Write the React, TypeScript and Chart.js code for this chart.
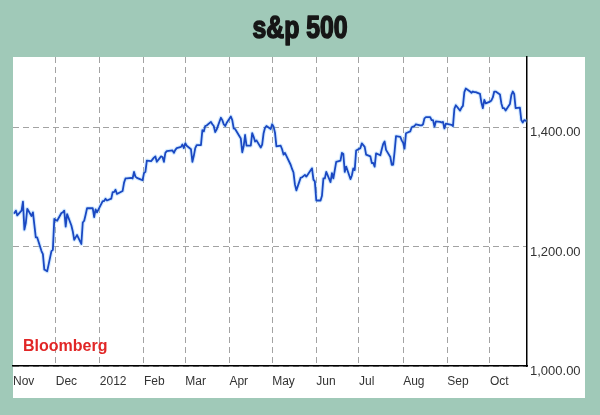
import React, { useEffect, useRef } from 'react';
import { Chart, registerables } from 'chart.js';

Chart.register(...registerables);

const TITLE = 's&p 500';
const SOURCE = 'Bloomberg';

const xTickLabels = ['Nov', 'Dec', '2012', 'Feb', 'Mar', 'Apr', 'May', 'Jun', 'Jul', 'Aug', 'Sep', 'Oct'];
// [year, monthIndex] of each month shown on the axis
const axisMonths: [number, number][] = [
  [2011, 10], [2011, 11], [2012, 0], [2012, 1], [2012, 2], [2012, 3],
  [2012, 4], [2012, 5], [2012, 6], [2012, 7], [2012, 8], [2012, 9],
];
const axisStart: [number, number, number] = [2011, 10, 1];
const axisEnd: [number, number, number] = [2012, 9, 27];

const yTickValues = [1000, 1200, 1400];
const yMin = 1000;
const yMax = 1519;

// trading days and closes, month by month
const novDays = [2, 3, 4, 7, 8, 9, 10, 11, 14, 15, 16, 17, 18, 21, 22, 23, 25, 28, 29, 30];
const novClose = [1257, 1261, 1253, 1261, 1276, 1229, 1240, 1264, 1252, 1258, 1237, 1216, 1216, 1193, 1188, 1162, 1159, 1193, 1195, 1247];

const decDays = [1, 2, 5, 6, 7, 8, 9, 12, 13, 14, 15, 16, 19, 20, 21, 22, 23, 27, 28, 29, 30];
const decClose = [1245, 1244, 1257, 1258, 1261, 1234, 1255, 1236, 1226, 1212, 1216, 1220, 1205, 1241, 1244, 1254, 1265, 1265, 1250, 1263, 1258];

const janDays = [3, 4, 5, 6, 9, 10, 11, 12, 13, 17, 18, 19, 20, 23, 24, 25, 26, 27, 30, 31];
const janClose = [1277, 1277, 1281, 1278, 1281, 1292, 1292, 1296, 1289, 1294, 1308, 1315, 1315, 1316, 1315, 1326, 1318, 1316, 1313, 1312];

const febDays = [1, 2, 3, 6, 7, 8, 9, 10, 13, 14, 15, 16, 17, 21, 22, 23, 24, 27, 28, 29];
const febClose = [1324, 1326, 1345, 1344, 1347, 1350, 1352, 1343, 1352, 1351, 1343, 1358, 1361, 1362, 1358, 1363, 1366, 1368, 1372, 1366];

const marDays = [1, 2, 5, 6, 7, 8, 9, 12, 13, 14, 15, 16, 19, 20, 21, 22, 23, 26, 27, 28, 29, 30];
const marClose = [1374, 1370, 1364, 1343, 1353, 1366, 1371, 1371, 1396, 1394, 1403, 1404, 1410, 1406, 1403, 1393, 1397, 1417, 1413, 1406, 1403, 1408];

const aprDays = [2, 3, 4, 5, 9, 10, 11, 12, 13, 16, 17, 18, 19, 20, 23, 24, 25, 26, 27, 30];
const aprClose = [1419, 1413, 1399, 1398, 1382, 1359, 1369, 1388, 1370, 1370, 1391, 1385, 1377, 1379, 1367, 1372, 1391, 1400, 1403, 1398];

const mayDays = [1, 2, 3, 4, 7, 8, 9, 10, 11, 14, 15, 16, 17, 18, 21, 22, 23, 24, 25, 29, 30, 31];
const mayClose = [1406, 1402, 1392, 1369, 1370, 1364, 1355, 1358, 1353, 1338, 1331, 1325, 1305, 1295, 1316, 1317, 1319, 1321, 1318, 1332, 1313, 1310];

const junDays = [1, 4, 5, 6, 7, 8, 11, 12, 13, 14, 15, 18, 19, 20, 21, 22, 25, 26, 27, 28, 29];
const junClose = [1278, 1278, 1286, 1315, 1315, 1326, 1309, 1324, 1315, 1329, 1343, 1345, 1358, 1356, 1326, 1335, 1314, 1320, 1332, 1329, 1362];

const julDays = [2, 3, 5, 6, 9, 10, 11, 12, 13, 16, 17, 18, 19, 20, 23, 24, 25, 26, 27, 30, 31];
const julClose = [1366, 1374, 1368, 1355, 1352, 1341, 1341, 1335, 1357, 1354, 1364, 1373, 1377, 1363, 1351, 1338, 1338, 1360, 1386, 1385, 1379];

const augDays = [1, 2, 3, 6, 7, 8, 9, 10, 13, 14, 15, 16, 17, 20, 21, 22, 23, 24, 27, 28, 29, 30, 31];
const augClose = [1375, 1365, 1391, 1394, 1401, 1402, 1403, 1406, 1404, 1404, 1406, 1416, 1418, 1418, 1413, 1413, 1402, 1411, 1410, 1409, 1410, 1399, 1407];

const sepDays = [4, 5, 6, 7, 10, 11, 12, 13, 14, 17, 18, 19, 20, 21, 24, 25, 26, 27, 28];
const sepClose = [1405, 1403, 1432, 1438, 1429, 1434, 1437, 1460, 1466, 1461, 1459, 1461, 1460, 1460, 1457, 1442, 1433, 1447, 1441];

const octDays = [1, 2, 3, 4, 5, 8, 9, 10, 11, 12, 15, 16, 17, 18, 19, 22, 23, 24, 25, 26];
const octClose = [1444, 1446, 1451, 1461, 1461, 1456, 1441, 1433, 1433, 1429, 1440, 1455, 1461, 1457, 1433, 1434, 1413, 1409, 1413, 1412];

const monthDays = [novDays, decDays, janDays, febDays, marDays, aprDays, mayDays, junDays, julDays, augDays, sepDays, octDays];
const monthCloses = [novClose, decClose, janClose, febClose, marClose, aprClose, mayClose, junClose, julClose, augClose, sepClose, octClose];

const DAY = 86400000;
const dayIndex = (y: number, m: number, d: number) =>
  Math.round((Date.UTC(y, m, d) - Date.UTC(axisStart[0], axisStart[1], axisStart[2])) / DAY);

const points: { x: number; y: number }[] = [];
monthDays.forEach((days, i) => {
  const [yr, mo] = axisMonths[i];
  days.forEach((d, j) => points.push({ x: dayIndex(yr, mo, d), y: monthCloses[i][j] }));
});
const xTickValues = axisMonths.map(([y, m]) => dayIndex(y, m, 1));
const xMax = dayIndex(axisEnd[0], axisEnd[1], axisEnd[2]);

const fmt = (v: number) =>
  v.toLocaleString('en-US', { minimumFractionDigits: 2, maximumFractionDigits: 2 });

const framePlugin = {
  id: 'frame',
  beforeDraw(chart: any) {
    const { ctx, width, height } = chart;
    ctx.save();
    ctx.fillStyle = '#a0c9b8';
    ctx.fillRect(0, 0, width, height);
    ctx.fillStyle = '#ffffff';
    ctx.fillRect(13, 57, 572, 341);
    ctx.restore();
  },
  afterDraw(chart: any) {
    const { ctx } = chart;
    ctx.save();
    ctx.translate(300, 38);
    ctx.scale(0.8, 1);
    ctx.font = 'bold 31px "Liberation Sans", Arial, sans-serif';
    ctx.textAlign = 'center';
    ctx.textBaseline = 'alphabetic';
    ctx.fillStyle = '#161616';
    ctx.strokeStyle = '#161616';
    ctx.lineWidth = 1.6;
    ctx.lineJoin = 'round';
    ctx.fillText(TITLE, 0, 0);
    ctx.strokeText(TITLE, 0, 0);
    ctx.restore();

    ctx.save();
    ctx.font = 'bold 16px "Liberation Sans", Arial, sans-serif';
    ctx.fillStyle = '#e12626';
    ctx.textAlign = 'left';
    ctx.textBaseline = 'alphabetic';
    ctx.fillText(SOURCE, 23, 351);
    ctx.restore();
  },
};

export default function App() {
  const ref = useRef<HTMLCanvasElement | null>(null);
  useEffect(() => {
    if (!ref.current) return;
    const chart = new Chart(ref.current, {
      type: 'line',
      data: {
        datasets: [
          {
            data: points,
            borderColor: '#1a48c2',
            borderWidth: 1.8,
            borderJoinStyle: 'round',
            borderCapStyle: 'round',
            pointRadius: 0,
            tension: 0,
            fill: false,
          },
          {
            data: points,
            borderColor: 'rgba(130,195,255,0.35)',
            borderWidth: 4,
            borderJoinStyle: 'round',
            borderCapStyle: 'round',
            pointRadius: 0,
            tension: 0,
            fill: false,
          },
        ],
      },
      options: {
        animation: false,
        responsive: false,
        devicePixelRatio: 1,
        parsing: false as any,
        layout: { padding: { left: 13, top: 57, right: 0, bottom: 0 } },
        plugins: {
          legend: { display: false },
          title: { display: false },
          tooltip: { enabled: false },
        },
        scales: {
          x: {
            type: 'linear',
            min: 0,
            max: xMax,
            afterBuildTicks: (scale: any) => {
              scale.ticks = xTickValues.map((v) => ({ value: v }));
            },
            afterFit: (scale: any) => {
              scale.height = 49;
            },
            grid: {
              color: (c: any) => (c.index === 0 ? 'rgba(0,0,0,0)' : '#a3a3a3'),
              lineWidth: 1,
              drawTicks: false,
            },
            border: { color: '#000000', width: 1.5, dash: [6, 4] },
            ticks: {
              autoSkip: false,
              maxRotation: 0,
              align: 'start',
              padding: 8,
              color: '#333333',
              font: { family: '"Liberation Sans", Arial, sans-serif', size: 12 },
              callback: (_v: any, i: number) => xTickLabels[i],
            },
          },
          y: {
            type: 'linear',
            position: 'right',
            min: yMin,
            max: yMax,
            afterBuildTicks: (scale: any) => {
              scale.ticks = yTickValues.map((v) => ({ value: v }));
            },
            afterFit: (scale: any) => {
              scale.width = 73;
            },
            grid: { color: '#a3a3a3', lineWidth: 1, drawTicks: false },
            border: { color: '#000000', width: 1.5, dash: [6, 4] },
            ticks: {
              padding: 3,
              labelOffset: 5,
              color: '#333333',
              font: { family: '"Liberation Sans", Arial, sans-serif', size: 13 },
              callback: (v: any) => fmt(Number(v)),
            },
          },
        },
      },
      plugins: [framePlugin],
    } as any);
    return () => chart.destroy();
  }, []);
  return (
    <div style={{ position: 'fixed', left: 0, top: 0, width: 600, height: 415 }}>
      <canvas ref={ref} width={600} height={415} style={{ display: 'block' }} />
    </div>
  );
}
